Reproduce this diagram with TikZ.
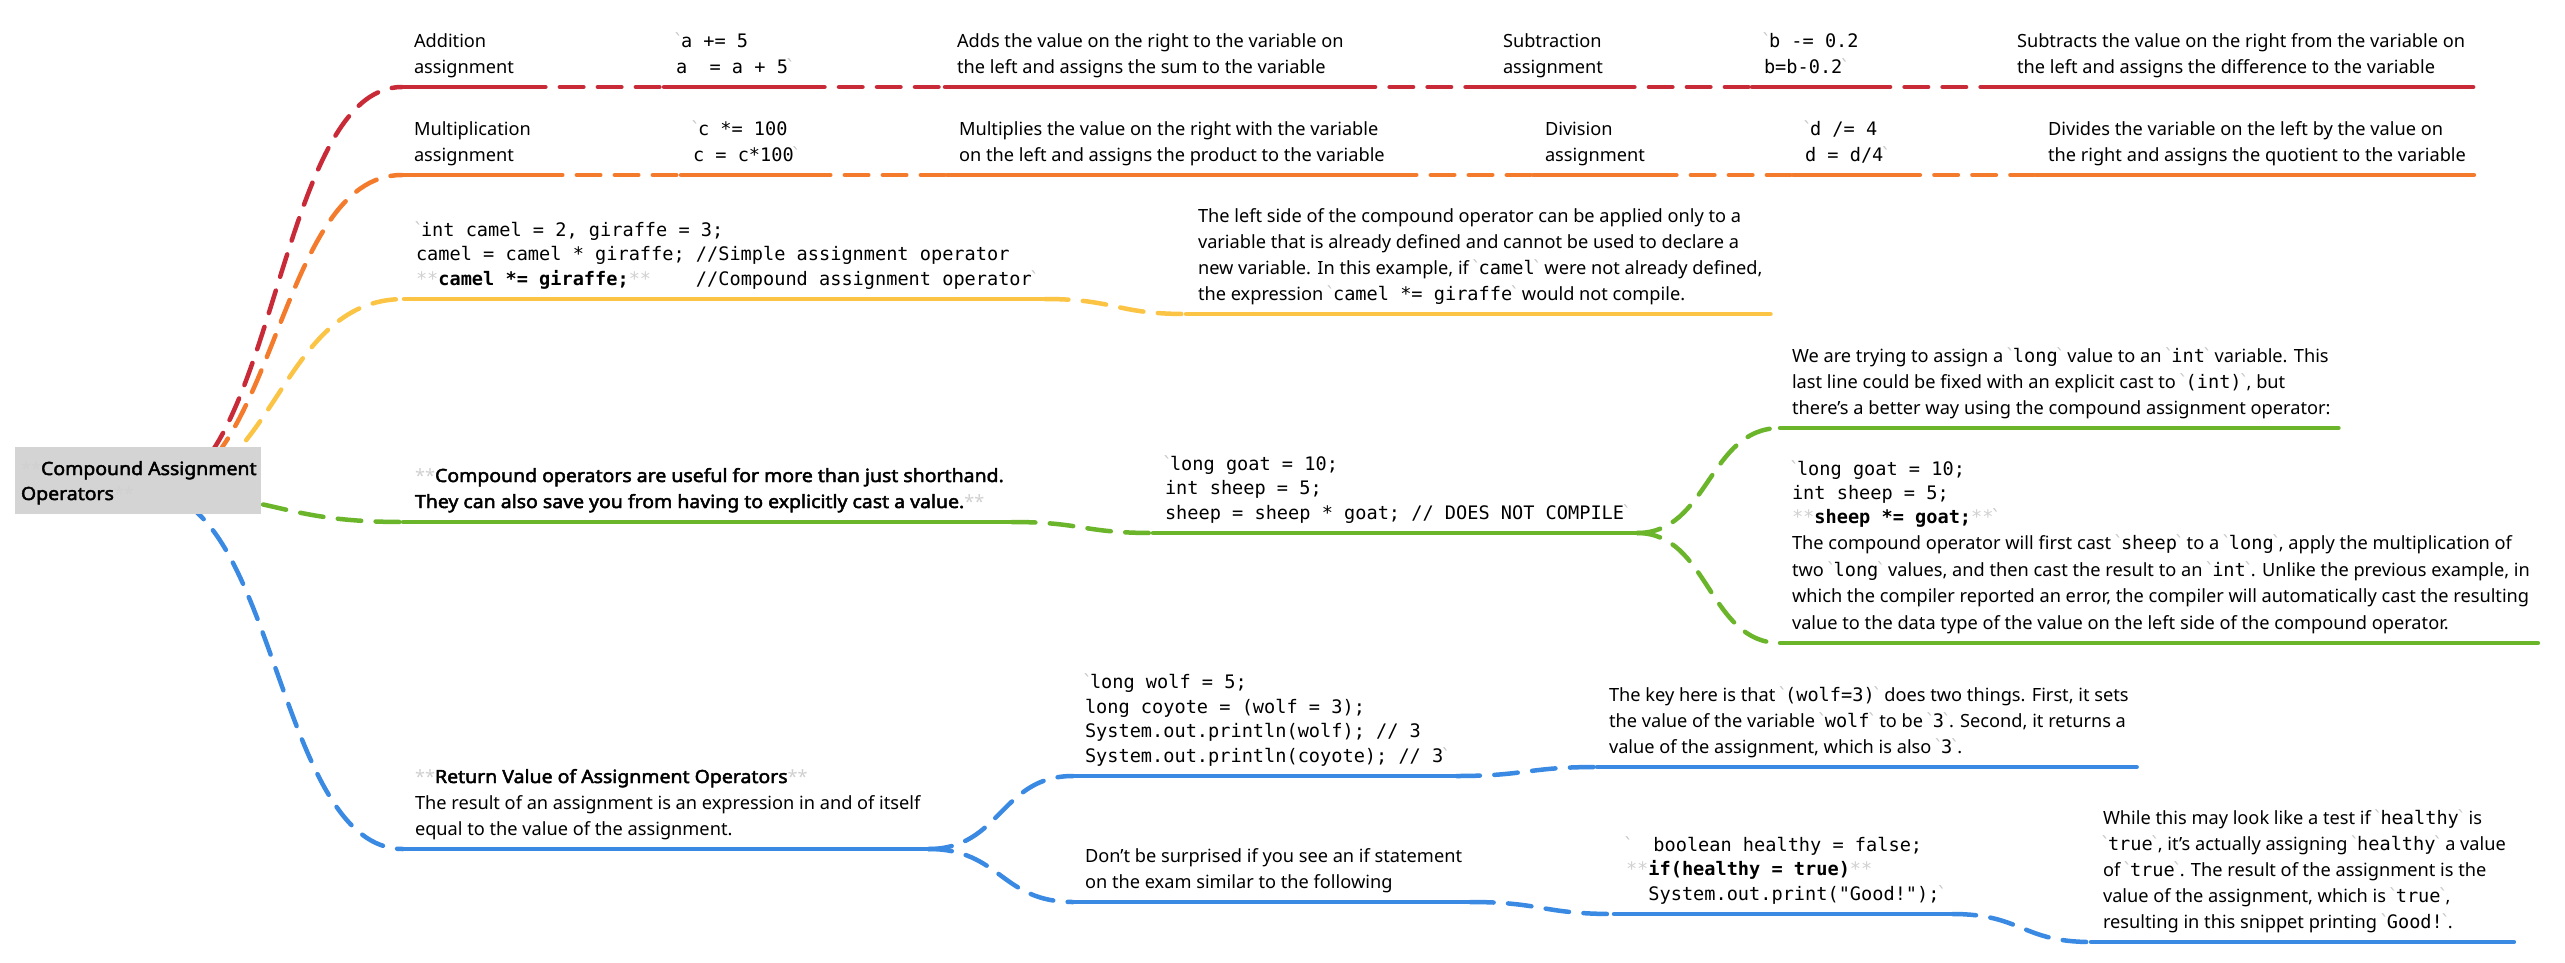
\documentclass[tikz,border=0pt]{standalone}
\usepackage{fontspec}
\setmainfont{Noto Sans}
\setmonofont{DejaVu Sans Mono}[Scale=1.022]
\newfontfamily\nsbold{Noto Sans}[FakeBold=2.5, FakeStretch=1.07]
\usetikzlibrary{calc}
\definecolor{cred}{HTML}{C92A37}
\definecolor{corange}{HTML}{F47A2C}
\definecolor{cyellow}{HTML}{FBC445}
\definecolor{cgreen}{HTML}{6BB52B}
\definecolor{cblue}{HTML}{3A8AE3}
\definecolor{rootgray}{HTML}{D4D4D4}
\definecolor{mdgray}{HTML}{D0D0D0}
\definecolor{btgray}{HTML}{C8C8C8}
\newcommand\bq{\makebox[5pt][c]{\color{btgray}\ttfamily\char96}}
\newcommand\mds{{\color{mdgray}\rmfamily**}}
\newcommand\mdt{{\color{mdgray}**}}
\newcommand\icode[1]{\bq{\ttfamily #1}\bq}
\newcommand\rw[1]{\hbox{#1}}
\newcommand\sblk[1]{\vbox{\baselineskip=26pt\lineskiplimit=-100pt\lineskip=0pt\relax #1}}
\newcommand\cblk[1]{\vbox{\ttfamily\baselineskip=24.5pt\lineskiplimit=-100pt\lineskip=0pt\relax #1}}
\newcommand\nodeul[2]{%
  \coordinate (#1-l) at ($(#1.base west)+(-12,14)$);
  \coordinate (#1-r) at ($(#1.base east)+(8,14)$);
  \draw[ulst,#2] (#1-l) -- (#1-r);}
\newcommand\lnk[3]{%
  \path ($(#1)!0.5!(#2)$) coordinate (lkmid);
  \draw[lk,#3] (#1) .. controls (lkmid |- #1) and (lkmid |- #2) .. (#2);}
\tikzset{
  ulst/.style={line width=4.5pt, line cap=round},
  lk/.style={line width=4.5pt, line cap=round, dash pattern=on 23.5pt off 14.5pt},
  tx/.style={inner sep=0pt, outer sep=0pt, anchor=base west},
  every node/.style={font=\fontsize{18.2}{26}\selectfont}
}
\begin{document}
\begin{tikzpicture}[x=1pt,y=-1pt]
\useasboundingbox (0,0) rectangle (2565,962);
\fill[white] (0,0) rectangle (2565,962);

% ---- red row
\node[tx] (r1) at (414,73) {\sblk{\rw{Addition}\rw{assignment}}};
\node[tx] (r2) at (676,73) {\sblk{\ttfamily\rw{\bq a += 5}\rw{a\ \ = a + 5\bq}}};
\node[tx] (r3) at (957,73) {\sblk{\rw{Adds the value on the right to the variable on}\rw{the left and assigns the sum to the variable}}};
\node[tx] (r4) at (1503,73) {\sblk{\rw{Subtraction}\rw{assignment}}};
\node[tx] (r5) at (1764,73) {\sblk{\ttfamily\rw{\bq b -= 0.2}\rw{b=b-0.2\bq}}};
\node[tx] (r6) at (2017,73) {\sblk{\rw{Subtracts the value on the right from the variable on}\rw{the left and assigns the difference to the variable}}};
\foreach \n in {r1,r2,r3,r4,r5,r6} {\nodeul{\n}{cred}}
\lnk{r1-r}{r2-l}{cred}
\lnk{r2-r}{r3-l}{cred}
\lnk{r3-r}{r4-l}{cred}
\lnk{r4-r}{r5-l}{cred}
\lnk{r5-r}{r6-l}{cred}

% ---- orange row
\node[tx] (o1) at (414,161) {\sblk{\rw{Multiplication}\rw{assignment}}};
\node[tx] (o2) at (693,161) {\sblk{\ttfamily\rw{\bq c *= 100}\rw{c = c*100\bq}}};
\node[tx] (o3) at (959,161) {\sblk{\rw{Multiplies the value on the right with the variable}\rw{on the left and assigns the product to the variable}}};
\node[tx] (o4) at (1545,161) {\sblk{\rw{Division}\rw{assignment}}};
\node[tx] (o5) at (1805,161) {\sblk{\ttfamily\rw{\bq d /= 4}\rw{d = d/4\bq}}};
\node[tx] (o6) at (2048,161) {\sblk{\rw{Divides the variable on the left by the value on}\rw{the right and assigns the quotient to the variable}}};
\foreach \n in {o1,o2,o3,o4,o5,o6} {\nodeul{\n}{corange}}
\lnk{o1-r}{o2-l}{corange}
\lnk{o2-r}{o3-l}{corange}
\lnk{o3-r}{o4-l}{corange}
\lnk{o4-r}{o5-l}{corange}
\lnk{o5-r}{o6-l}{corange}

% ---- yellow
\node[tx] (y1) at (416,285) {\cblk{\rw{\bq int camel = 2, giraffe = 3;}\rw{camel = camel * giraffe; //Simple assignment operator}\rw{\mdt{\bfseries camel *= giraffe;}\mdt\ \ \ \ //Compound assignment operator\bq}}};
\node[tx] (y2) at (1198,300) {\sblk{\rw{The left side of the compound operator can be applied only to a}\rw{variable that is already defined and cannot be used to declare a}\rw{new variable. In this example, if \icode{camel} were not already defined,}\rw{the expression \icode{camel *= giraffe} would not compile.}}};
\nodeul{y1}{cyellow}
\nodeul{y2}{cyellow}
\lnk{y1-r}{y2-l}{cyellow}

% ---- green
\node[tx] (g1) at (415,508) {\sblk{\rw{\mds{\nsbold Compound operators are useful for more than just shorthand.}}\rw{{\nsbold They can also save you from having to explicitly cast a value.}\mds}}};
\node[tx] (g2) at (1165,519) {\cblk{\rw{\bq long goat = 10;}\rw{int sheep = 5;}\rw{sheep = sheep * goat; // DOES NOT COMPILE\bq}}};
\node[tx] (g3) at (1792,414) {\sblk{\rw{We are trying to assign a \icode{long} value to an \icode{int} variable. This}\rw{last line could be fixed with an explicit cast to \icode{(int)}, but}\rw{there’s a better way using the compound assignment operator:}}};
\node[tx] (g4) at (1792,629) {\vbox{\ttfamily\baselineskip=24pt\lineskiplimit=-100pt\lineskip=0pt\relax
  \rw{\bq long goat = 10;}\rw{int sheep = 5;}\rw{\mdt{\bfseries sheep *= goat;}\mdt\bq}
  \rmfamily\baselineskip=26.5pt\relax
  \rw{The compound operator will first cast \icode{sheep} to a \icode{long}, apply the multiplication of}\rw{two \icode{long} values, and then cast the result to an \icode{int}. Unlike the previous example, in}\rw{which the compiler reported an error, the compiler will automatically cast the resulting}\rw{value to the data type of the value on the left side of the compound operator.}}};
\foreach \n in {g1,g2,g3,g4} {\nodeul{\n}{cgreen}}
\lnk{g1-r}{g2-l}{cgreen}
\lnk{g2-r}{g3-l}{cgreen}
\lnk{g2-r}{g4-l}{cgreen}

% ---- blue
\node[tx] (b1) at (415,835) {\sblk{\rw{\mds{\nsbold Return Value of Assignment Operators}\mds}\rw{The result of an assignment is an expression in and of itself}\rw{equal to the value of the assignment.}}};
\node[tx] (b2) at (1085,762) {\cblk{\rw{\bq long wolf = 5;}\rw{long coyote = (wolf = 3);}\rw{System.out.println(wolf); // 3}\rw{System.out.println(coyote); // 3\bq}}};
\node[tx] (b3) at (1609,753) {\sblk{\rw{The key here is that \icode{(wolf=3)} does two things. First, it sets}\rw{the value of the variable \icode{wolf} to be \icode{3}. Second, it returns a}\rw{value of the assignment, which is also \icode{3}.}}};
\node[tx] (b4) at (1085,888) {\sblk{\rw{Don’t be surprised if you see an if statement}\rw{on the exam similar to the following}}};
\node[tx] (b5) at (1626,900) {\cblk{\rw{\bq\ \ boolean healthy = false;}\rw{\mdt{\bfseries if(healthy = true)}\mdt}\rw{\ \ System.out.print("Good!");\bq}}};
\node[tx] (b6) at (2103,928) {\sblk{\rw{While this may look like a test if \icode{healthy} is}\rw{\icode{true}, it’s actually assigning \icode{healthy} a value}\rw{of \icode{true}. The result of the assignment is the}\rw{value of the assignment, which is \icode{true},}\rw{resulting in this snippet printing \icode{Good!}.}}};
\foreach \n in {b1,b2,b3,b4,b5,b6} {\nodeul{\n}{cblue}}
\lnk{b1-r}{b2-l}{cblue}
\lnk{b2-r}{b3-l}{cblue}
\lnk{b1-r}{b4-l}{cblue}
\lnk{b4-r}{b5-l}{cblue}
\lnk{b5-r}{b6-l}{cblue}

% ---- root links
\coordinate (src) at (150,493);
\lnk{src}{r1-l}{cred}
\lnk{src}{o1-l}{corange}
\lnk{src}{y1-l}{cyellow}
\lnk{src}{g1-l}{cgreen}
\lnk{src}{b1-l}{cblue}

% ---- root
\fill[rootgray] (15,447) rectangle (261,514);
\node[tx] (root) at (21,500) {\vbox{\baselineskip=25pt\lineskiplimit=-100pt\relax\rw{\mds{\nsbold Compound Assignment}}\rw{{\nsbold Operators}\mds}}};
\end{tikzpicture}
\end{document}
